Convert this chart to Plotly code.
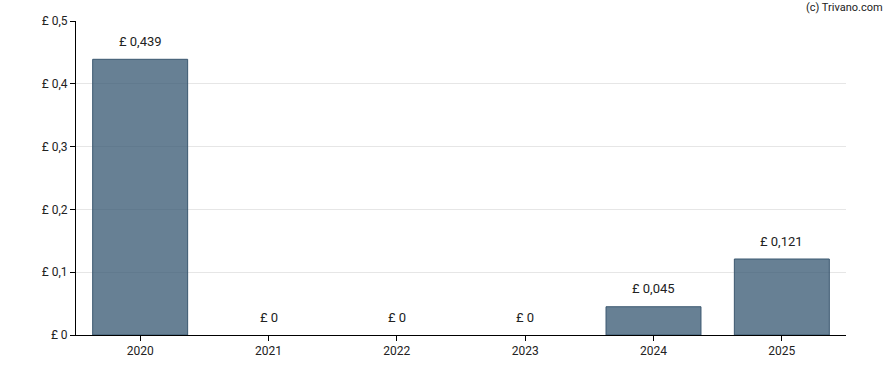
import plotly.graph_objects as go

years = ["2020", "2021", "2022", "2023", "2024", "2025"]
values = [0.439, 0, 0, 0, 0.045, 0.121]
labels = ["£ 0,439", "£ 0", "£ 0", "£ 0", "£ 0,045", "£ 0,121"]
ytick_vals = [0, 0.1, 0.2, 0.3, 0.4, 0.5]
ytick_text = ["£ 0", "£ 0,1", "£ 0,2", "£ 0,3", "£ 0,4", "£ 0,5"]

line_colors = ["#3b5870" if v > 0 else "rgba(0,0,0,0)" for v in values]

fig = go.Figure()
fig.add_trace(go.Bar(
    x=years, y=values, width=0.74,
    marker=dict(color="rgba(52,86,112,0.75)", line=dict(color=line_colors, width=1)),
    hoverinfo="skip",
))
for i, (v, t) in enumerate(zip(values, labels)):
    fig.add_annotation(x=i, y=v, text=t, showarrow=False, yanchor="middle", yshift=18,
                       font=dict(family="Roboto", size=13, color="#222"))
fig.add_annotation(xref="paper", yref="paper", x=1.05, y=1.0, yshift=14, xanchor="right",
                   yanchor="middle", text="(c) Trivano.com", showarrow=False,
                   font=dict(family="Roboto", size=11, color="#222"))

fig.update_layout(
    width=888, height=370,
    margin=dict(l=76, r=42, t=21, b=35),
    plot_bgcolor="white", paper_bgcolor="white",
    showlegend=False,
    font=dict(family="Roboto", size=12, color="#222"),
)
fig.update_xaxes(showline=True, linecolor="black", linewidth=1, ticks="outside", ticklen=5,
                 tickcolor="black", showgrid=False, type="category", range=[-0.5, 5.5])
fig.update_yaxes(range=[0, 0.5], tickvals=ytick_vals, ticktext=ytick_text, showline=True,
                 linecolor="black", linewidth=1, ticks="outside", ticklen=5, tickcolor="black",
                 showgrid=True, gridcolor="#e6e6e6", zeroline=False)
fig.write_html("out.html")
